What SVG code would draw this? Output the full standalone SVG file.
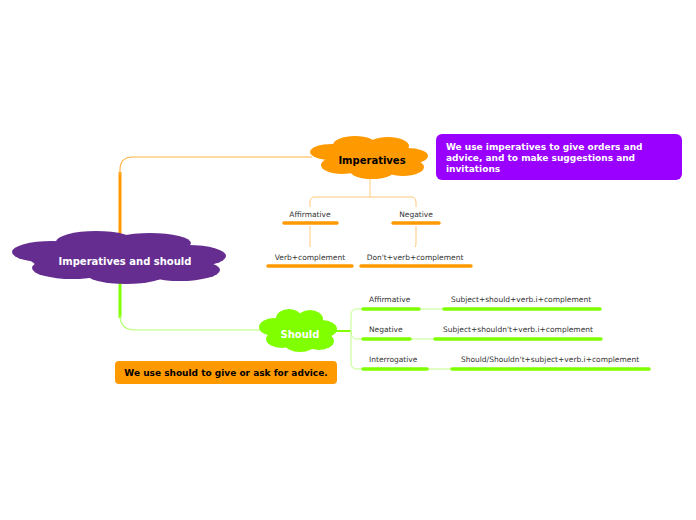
<svg xmlns="http://www.w3.org/2000/svg" width="696" height="520" viewBox="0 0 696 520">
<style>
.t{font-family:"DejaVu Sans","Verdana",sans-serif}
.b{font-weight:bold}
.s{font-size:7.5px;fill:#333}
.ul-o{stroke:#FF9900;stroke-width:3.5;stroke-linecap:round}
.ul-g{stroke:#80FF00;stroke-width:3.5;stroke-linecap:round}
.ln-o{fill:none;stroke:#FFC97A;stroke-width:1}
.ln-g{fill:none;stroke:#C2FF8A;stroke-width:1}
</style>
<rect width="696" height="520" fill="#fff"/>
<g id="connectors">
<path d="M120,240 V172" stroke="#FF9900" stroke-width="3" fill="none"/>
<path d="M120,175 V170 Q120,157 133,157 H312" stroke="#FFB347" stroke-width="1.2" fill="none"/>
<path d="M120,282 V318" stroke="#80FF00" stroke-width="3" fill="none"/>
<path d="M120,315 Q120,330 135,330 H266" stroke="#B5FF70" stroke-width="1.2" fill="none"/>
<path class="ln-o" d="M370,179 V197 M310,207 V202 Q310,197 315,197 H411 Q416,197 416,202 V207"/>
<path class="ln-o" d="M310,226 V247 M416,226 V242 Q416,247 415,247"/>
<path d="M336,331 H351" stroke="#80FF00" stroke-width="2" fill="none"/>
<path class="ln-g" d="M351,331 V315 Q351,309 357,309 H362 M351,331 V363 Q351,369 357,369 H362 M351,331 Q351,339 357,339 H362"/>
<path class="ln-g" d="M419,309 H443 M411,339 H434 M427,369 H451"/>
</g>
<g id="central">
<g fill="#662D91">
<ellipse cx="52" cy="252" rx="40" ry="11"/>
<ellipse cx="96" cy="242" rx="40" ry="11"/>
<ellipse cx="150" cy="243" rx="41" ry="10"/>
<ellipse cx="188" cy="256" rx="38" ry="11"/>
<ellipse cx="72" cy="268" rx="40" ry="11"/>
<ellipse cx="126" cy="274" rx="40" ry="10"/>
<ellipse cx="180" cy="270" rx="40" ry="11"/>
<ellipse cx="120" cy="258" rx="90" ry="18"/>
</g>
<text class="t b" x="125" y="265" font-size="10" fill="#fff" text-anchor="middle">Imperatives and should</text>
</g>
<g id="imperatives">
<g fill="#FF9900">
<ellipse cx="332" cy="152" rx="22" ry="8"/>
<ellipse cx="355" cy="145" rx="22" ry="9"/>
<ellipse cx="388" cy="146" rx="21" ry="9"/>
<ellipse cx="407" cy="156" rx="21" ry="8"/>
<ellipse cx="403" cy="167" rx="21" ry="9"/>
<ellipse cx="372" cy="171" rx="22" ry="8"/>
<ellipse cx="342" cy="165" rx="21" ry="9"/>
<ellipse cx="370" cy="158" rx="45" ry="14"/>
</g>
<text class="t b" x="372" y="164" font-size="10" fill="#000" text-anchor="middle">Imperatives</text>
</g>
<g id="imp-note">
<rect x="436" y="134" width="246" height="46" rx="6" fill="#9900FF"/>
<text class="t b" font-size="9" fill="#fff"><tspan x="446" y="150">We use imperatives to give orders and</tspan><tspan x="446" y="161">advice, and to make suggestions and</tspan><tspan x="446" y="172">invitations</tspan></text>
</g>
<g id="imp-affirmative">
<text class="t s" x="310" y="217" text-anchor="middle">Affirmative</text>
<line class="ul-o" x1="284" y1="223" x2="337" y2="223"/>
</g>
<g id="imp-negative">
<text class="t s" x="416" y="217" text-anchor="middle">Negative</text>
<line class="ul-o" x1="393" y1="223" x2="439" y2="223"/>
</g>
<g id="imp-aff-rule">
<text class="t s" x="310" y="260" text-anchor="middle">Verb+complement</text>
<line class="ul-o" x1="268" y1="266" x2="352" y2="266"/>
</g>
<g id="imp-neg-rule">
<text class="t s" x="415" y="260" text-anchor="middle">Don't+verb+complement</text>
<line class="ul-o" x1="361" y1="266" x2="471" y2="266"/>
</g>
<g id="should">
<g fill="#80FF00">
<ellipse cx="289" cy="318" rx="13" ry="9"/>
<ellipse cx="310" cy="319" rx="13" ry="9"/>
<ellipse cx="274" cy="327" rx="15" ry="9"/>
<ellipse cx="322" cy="329" rx="15" ry="9"/>
<ellipse cx="282" cy="339" rx="16" ry="9"/>
<ellipse cx="300" cy="344" rx="15" ry="8"/>
<ellipse cx="319" cy="341" rx="15" ry="9"/>
<ellipse cx="298" cy="331" rx="30" ry="13"/>
</g>
<text class="t b" x="300" y="338" font-size="10" fill="#fff" text-anchor="middle">Should</text>
</g>
<g id="should-note">
<rect x="115" y="361" width="222" height="23" rx="4" fill="#FF9900"/>
<text class="t b" x="226" y="376" font-size="9" fill="#000" text-anchor="middle">We use should to give or ask for advice.</text>
</g>
<g id="sh-affirmative">
<text class="t s" x="369" y="302">Affirmative</text>
<line class="ul-g" x1="363" y1="309" x2="419" y2="309"/>
</g>
<g id="sh-aff-rule">
<text class="t s" x="521" y="302" text-anchor="middle">Subject+should+verb.i+complement</text>
<line class="ul-g" x1="444" y1="309" x2="600" y2="309"/>
</g>
<g id="sh-negative">
<text class="t s" x="369" y="332">Negative</text>
<line class="ul-g" x1="363" y1="339" x2="410" y2="339"/>
</g>
<g id="sh-neg-rule">
<text class="t s" x="518" y="332" text-anchor="middle">Subject+shouldn't+verb.i+complement</text>
<line class="ul-g" x1="435" y1="339" x2="601" y2="339"/>
</g>
<g id="sh-interrogative">
<text class="t s" x="369" y="362">Interrogative</text>
<line class="ul-g" x1="363" y1="369" x2="427" y2="369"/>
</g>
<g id="sh-int-rule">
<text class="t s" x="550" y="362" text-anchor="middle">Should/Shouldn't+subject+verb.i+complement</text>
<line class="ul-g" x1="452" y1="369" x2="649" y2="369"/>
</g>
</svg>
